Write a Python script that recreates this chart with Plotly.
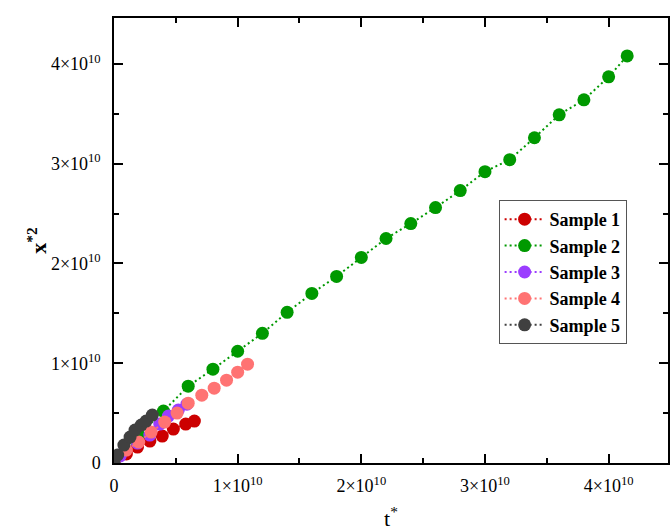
import plotly.graph_objects as go

E = 1e10
# Data (in units of 1e10)
s1_t = [0, 0.10, 0.19, 0.29, 0.39, 0.48, 0.58, 0.65]
s1_y = [0, 0.09, 0.16, 0.22, 0.27, 0.34, 0.39, 0.42]

s2_t = [0, 0.2, 0.4, 0.6, 0.8, 1.0, 1.2, 1.4, 1.6, 1.8, 2.0, 2.2, 2.4, 2.6, 2.8, 3.0, 3.2, 3.4, 3.6, 3.8, 4.0, 4.15]
s2_y = [0, 0.28, 0.52, 0.77, 0.94, 1.12, 1.30, 1.51, 1.70, 1.87, 2.06, 2.25, 2.40, 2.56, 2.73, 2.92, 3.04, 3.26, 3.49, 3.64, 3.87, 4.08]

s3_t = [0, 0.05, 0.09, 0.19, 0.29, 0.37, 0.44, 0.52, 0.59]
s3_y = [0, 0.07, 0.13, 0.20, 0.28, 0.39, 0.47, 0.53, 0.59]

s4_t = [0, 0.10, 0.20, 0.30, 0.41, 0.51, 0.60, 0.71, 0.81, 0.91, 1.00, 1.08]
s4_y = [0, 0.13, 0.21, 0.31, 0.41, 0.50, 0.60, 0.68, 0.75, 0.83, 0.91, 0.99]

s5_t = [0, 0.03, 0.08, 0.13, 0.17, 0.22, 0.26, 0.31]
s5_y = [0, 0.08, 0.18, 0.26, 0.33, 0.38, 0.42, 0.48]

names = ["Sample 1", "Sample 2", "Sample 3", "Sample 4", "Sample 5"]
colors = ["#cc0000", "#009900", "#9b3dff", "#ff7373", "#404040"]
series = [(s1_t, s1_y), (s2_t, s2_y), (s3_t, s3_y), (s4_t, s4_y), (s5_t, s5_y)]

tick_vals = [0, 1, 2, 3, 4]
tick_text = ["0", "1×10<sup>10</sup>", "2×10<sup>10</sup>", "3×10<sup>10</sup>", "4×10<sup>10</sup>"]
minor_vals = [0.5, 1.5, 2.5, 3.5, 4.5]

FONT = "'Liberation Serif', 'Times New Roman', Times, serif"

fig = go.Figure()
for (t, y), n, c in zip(series, names, colors):
    fig.add_trace(go.Scatter(
        x=[v * E for v in t], y=[v * E for v in y], name=n, mode="lines+markers",
        line=dict(color=c, width=2, dash="2px,3px"),
        marker=dict(color=c, size=13, line=dict(width=0)),
    ))

axis_common = dict(
    showline=True, linecolor="black", linewidth=1.5, mirror="allticks",
    ticks="inside", ticklen=9, tickwidth=1.5, tickcolor="black",
    showgrid=False, zeroline=False,
    tickmode="array",
    tickvals=[v * E for v in tick_vals], ticktext=tick_text,
    minor=dict(tickvals=[v * E for v in minor_vals], ticks="inside", ticklen=5, tickwidth=1.5, tickcolor="black"),
    tickfont=dict(family=FONT, size=18, color="black"),
)

fig.update_layout(
    width=670, height=527,
    margin=dict(l=114, r=0, t=18, b=64),
    paper_bgcolor="white", plot_bgcolor="white",
    font=dict(family=FONT, color="black"),
    xaxis=dict(range=[0, 4.48 * E], ticklabelstandoff=6, **axis_common),
    yaxis=dict(range=[0, 4.46 * E], ticklabelstandoff=8, **axis_common),
    showlegend=True,
    legend=dict(
        x=(500 - 114) / 556, y=0.591, xanchor="left", yanchor="top",
        bgcolor="white", bordercolor="#555555", borderwidth=1,
        font=dict(family=FONT, size=18, color="black", weight="bold"),
        tracegroupgap=0, itemwidth=40,
    ),
    annotations=[
        dict(text="<b>x<sup>*2</sup></b>", xref="paper", yref="paper",
             x=(36 - 114) / 556, y=0.5, xanchor="center", yanchor="middle",
             textangle=-90, showarrow=False, font=dict(family=FONT, size=22, color="black")),
        dict(text="t<sup>*</sup>", xref="paper", yref="paper",
             x=0.5, y=-(517 - 463) / 445, xanchor="center", yanchor="middle",
             showarrow=False, font=dict(family=FONT, size=22, color="black")),
    ],
)

fig.write_html("out.html")
